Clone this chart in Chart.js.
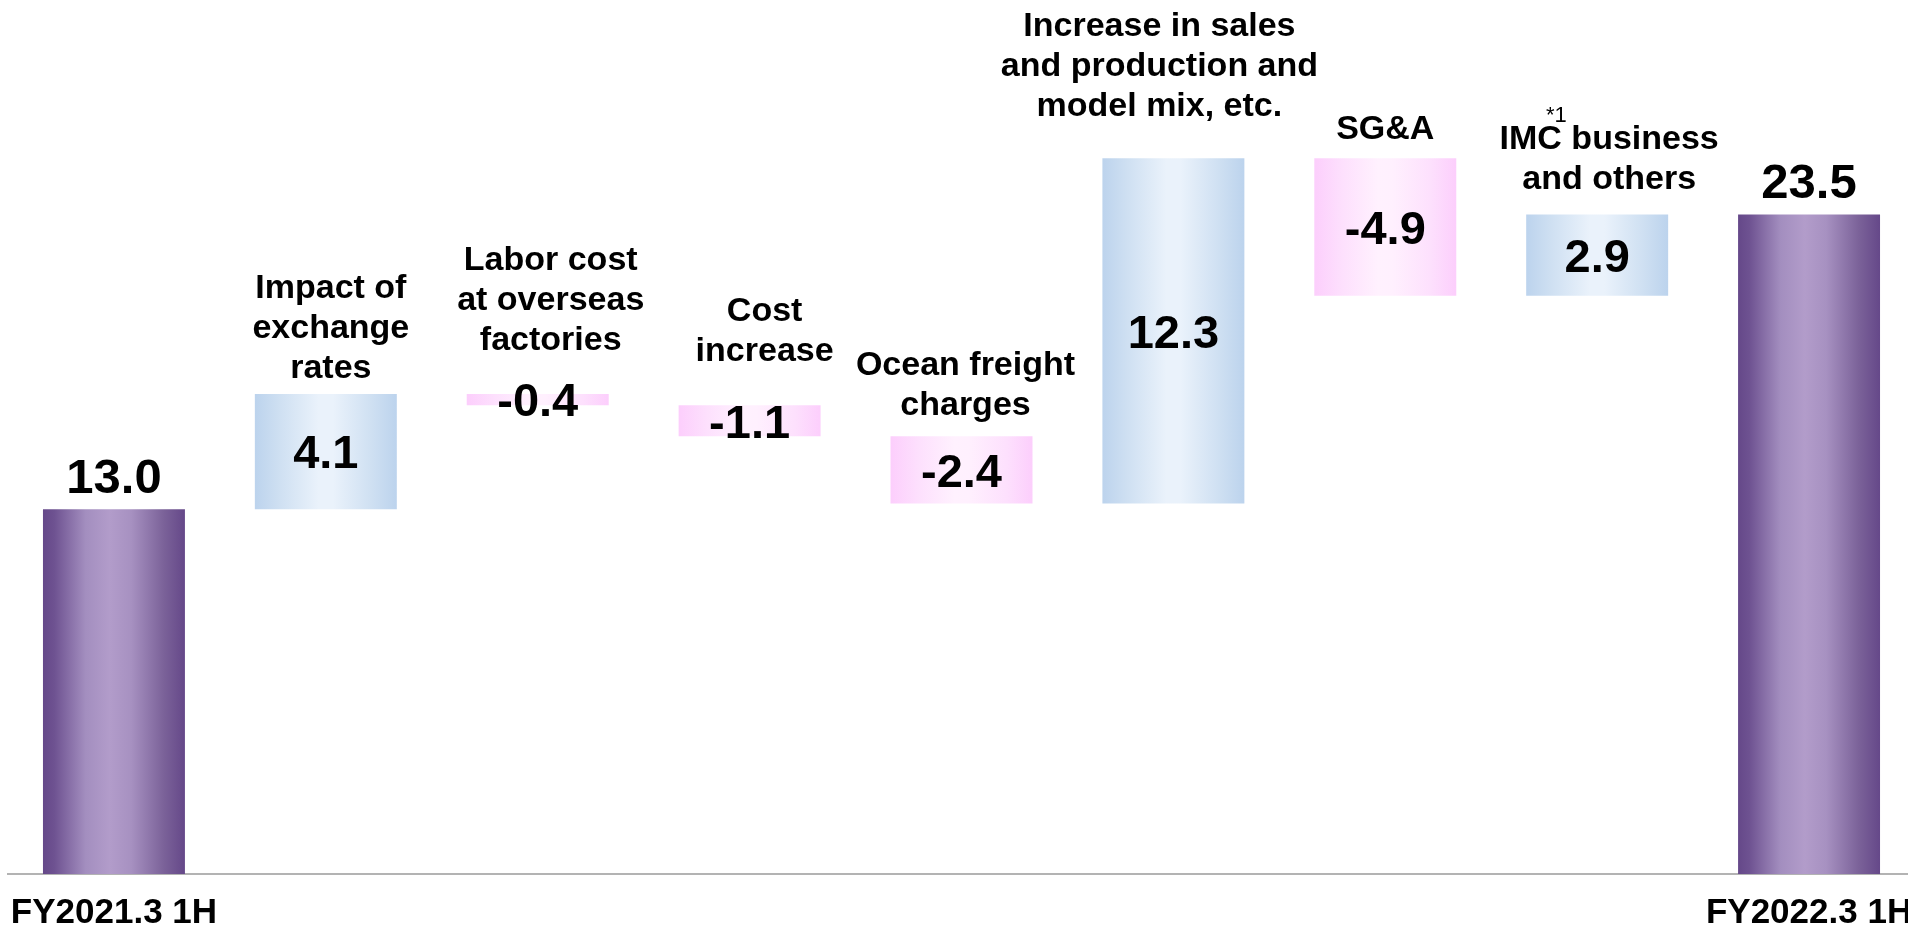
<!DOCTYPE html>
<html><head><meta charset="utf-8">
<script src="https://cdn.jsdelivr.net/npm/chart.js@4.4.1/dist/chart.umd.min.js"></script>
<style>
html,body{margin:0;padding:0;background:#fff;overflow:hidden;}
#wrap{position:relative;width:1916px;height:927px;}
canvas{display:block;}
</style></head><body>
<div id="wrap"><canvas id="c" width="1916" height="927"></canvas></div>
<script>
// ---- data ----
const axisLabels = ['FY2021.3 1H','','','','','','','','FY2022.3 1H'];
const categoryLines = [
  [],
  ['Impact of','exchange','rates'],
  ['Labor cost','at overseas','factories'],
  ['Cost','increase'],
  ['Ocean freight','charges'],
  ['Increase in sales','and production and','model mix, etc.'],
  ['SG&A'],
  ['IMC business','and others'],
  []
];
const footnoteMarks = ['','','','','','','','*1',''];
const startValue = 13.0;
const changes = [4.1, -0.4, -1.1, -2.4, 12.3, -4.9, 2.9];
const endValue = 23.5;

// ---- derived ----
const ranges = [[0, startValue]];
const kinds = ['total'];
const valueTexts = [startValue.toFixed(1)];
let run = startValue;
changes.forEach(d => {
  const next = Math.round((run + d) * 10) / 10;
  ranges.push([run, next]);
  kinds.push(d >= 0 ? 'up' : 'down');
  valueTexts.push(d.toFixed(1));
  run = next;
});
ranges.push([0, endValue]);
kinds.push('total');
valueTexts.push(endValue.toFixed(1));

// ---- layout / style (not data) ----
const FONT = "'Liberation Sans', Arial, Helvetica, sans-serif";
const BAR_PCT = 0.67;
const labelDx  = [0, 5, 13, 15, 4, -14, 0, 12, 0];
const labelGap = [0, 16, 44, 44, 21, 42, 19, 25, 0];
const LINE_H = 40;

const stops = {
  total: [[0,'#654889'],[0.08,'#6e5291'],[0.3,'#a38ebf'],[0.47,'#b29cca'],[0.62,'#a791c1'],[0.85,'#7b6299'],[1,'#654889']],
  up:    [[0,'#bcd3ed'],[0.18,'#cfe0f2'],[0.45,'#eaf2fb'],[0.55,'#eaf2fb'],[0.82,'#cfe0f2'],[1,'#bcd3ed']],
  down:  [[0,'#fccefc'],[0.2,'#fde0fd'],[0.45,'#fff1fe'],[0.55,'#fff0fe'],[0.82,'#fde0fd'],[1,'#fccefc']]
};
const fallback = {total:'#8f77ad', up:'#d6e5f5', down:'#fde3fd'};

function barFill(ctx) {
  const chart = ctx.chart;
  const k = kinds[ctx.dataIndex];
  const xs = chart.scales && chart.scales.x;
  if (!xs || !chart.chartArea || ctx.dataIndex === undefined) return fallback[k] || '#ccc';
  const cx = xs.getPixelForValue(ctx.dataIndex);
  const hw = xs.width / axisLabels.length * BAR_PCT / 2;
  const g = chart.ctx.createLinearGradient(cx - hw, 0, cx + hw, 0);
  stops[k].forEach(s => g.addColorStop(s[0], s[1]));
  return g;
}

const labelPlugin = {
  id: 'wfLabels',
  afterDatasetsDraw(chart) {
    const ctx = chart.ctx;
    const meta = chart.getDatasetMeta(0);
    ctx.save();
    ctx.fillStyle = '#000';
    meta.data.forEach((bar, i) => {
      const p = bar.getProps(['x','y','base'], true);
      const top = Math.min(p.y, p.base), bottom = Math.max(p.y, p.base);
      ctx.textAlign = 'center';
      ctx.textBaseline = 'alphabetic';
      if (kinds[i] === 'total') {
        ctx.font = 'bold 49px ' + FONT;
        ctx.fillText(valueTexts[i], p.x, top - 16);
      } else {
        const vs = 47;
        ctx.font = 'bold ' + vs + 'px ' + FONT;
        ctx.fillText(valueTexts[i], p.x, (top + bottom) / 2 + 0.358 * vs);
      }
      const lines = categoryLines[i];
      if (lines.length) {
        ctx.font = 'bold 34px ' + FONT;
        const cx = p.x + labelDx[i];
        const lastBase = top - labelGap[i];
        lines.forEach((ln, j) => {
          const yb = lastBase - (lines.length - 1 - j) * LINE_H;
          ctx.fillText(ln, cx, yb);
          if (j === 0 && footnoteMarks[i]) {
            const w = ctx.measureText(ln).width;
            const first = ln.split(' ')[0];
            const wf = ctx.measureText(first).width;
            const endFirst = cx - w / 2 + wf;
            ctx.save();
            ctx.font = '22px ' + FONT;
            ctx.textAlign = 'left';
            ctx.fillText(footnoteMarks[i], endFirst - 16, yb - 27);
            ctx.restore();
            ctx.font = 'bold 34px ' + FONT;
          }
        });
      }
    });
    ctx.restore();
  }
};

new Chart(document.getElementById('c'), {
  type: 'bar',
  data: {
    labels: axisLabels,
    datasets: [{
      data: ranges,
      backgroundColor: barFill,
      borderWidth: 0,
      barPercentage: BAR_PCT,
      categoryPercentage: 1.0
    }]
  },
  options: {
    responsive: false,
    animation: false,
    devicePixelRatio: 1,
    layout: { padding: { left: 8, right: 1, top: 32, bottom: 0 } },
    plugins: { legend: { display: false }, tooltip: { enabled: false } },
    scales: {
      x: {
        grid: { display: false, drawTicks: false },
        border: { display: true, color: '#b3b3b3', width: 2 },
        ticks: {
          color: '#000',
          font: { family: FONT, size: 35, weight: 'bold' },
          padding: 18,
          maxRotation: 0,
          autoSkip: false
        },
        afterFit: s => { s.height = 53; s.paddingLeft = 0; s.paddingRight = 0; }
      },
      y: {
        display: false,
        min: 0,
        max: 30
      }
    }
  },
  plugins: [labelPlugin]
});
</script>
</body></html>
